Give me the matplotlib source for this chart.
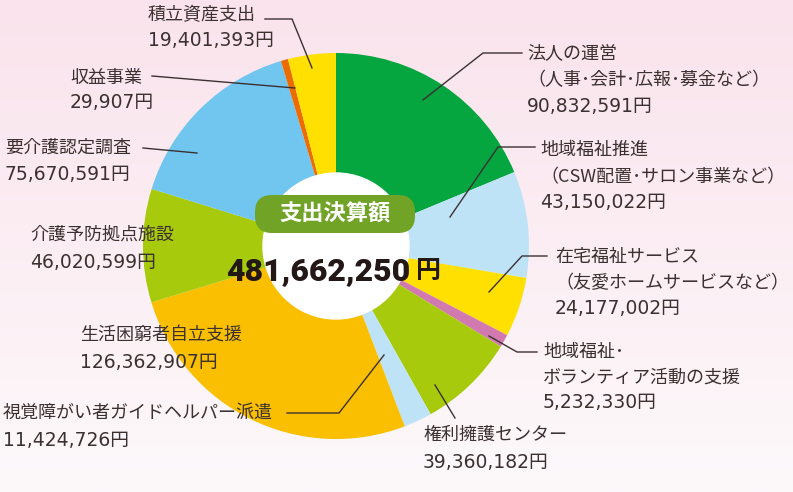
import numpy as np
import matplotlib
matplotlib.use("Agg")
import matplotlib.pyplot as plt
from matplotlib.patches import Circle, FancyBboxPatch

# data (clockwise from 12 o'clock)
categories = ["法人の運営", "地域福祉推進", "在宅福祉サービス", "地域福祉・ボランティア活動の支援",
              "権利擁護センター", "視覚障がい者ガイドヘルパー派遣", "生活困窮者自立支援",
              "介護予防拠点施設", "要介護認定調査", "収益事業", "積立資産支出"]
values = [90832591, 43150022, 24177002, 5232330, 39360182, 11424726,
          126362907, 46020599, 75670591, 29907, 19401393]
colors = ["#05a53f", "#bfe3f6", "#ffe000", "#d279b0", "#a7ca0c", "#bfe3f6",
          "#f9bf00", "#a7ca0c", "#70c6ef", "#ec6c00", "#ffe000"]
total_label = "481,662,250"

text_col = "#3b3131"
jp = ["Noto Sans CJK JP", "DejaVu Sans"]
num = ["DejaVu Sans", "Noto Sans CJK JP"]
plt.rcParams["font.family"] = jp

fig = plt.figure(figsize=(7.93, 4.92), dpi=100)
ax = fig.add_axes([0, 0, 1, 1])

# pink -> white background
top = np.array([250, 227, 236]) / 255
bot = np.array([253, 249, 251]) / 255
t = np.linspace(0, 1, 256)[:, None, None]
grad = top * (1 - t) + bot * t
ax.imshow(grad, extent=(0, 793, 492, 0), aspect="auto", zorder=0)

# tiny slices get a visible minimum width like the original
vals = np.array(values, dtype=float)
disp = np.maximum(vals, vals.sum() * 0.006)

cx, cy, r = 336, 246, 193
ax.pie(disp, colors=colors, startangle=-90, counterclock=True, radius=r,
       center=(cx, cy), wedgeprops=dict(linewidth=0))
ax.add_patch(Circle((cx, cy), 73, color="white", zorder=3))

ax.set_xlim(0, 793)
ax.set_ylim(492, 0)
ax.set_aspect("auto")
ax.axis("off")

# centre label
ax.add_patch(FancyBboxPatch((255, 195), 160, 38, boxstyle="round,pad=0,rounding_size=17",
                            fc="#70a326", ec="none", zorder=4))
ax.text(335, 214, "支出決算額", color="white", fontsize=16, fontweight="bold",
        ha="center", va="center", zorder=5)
big = ax.text(226, 271, total_label, family="Roboto", fontweight="black",
              fontsize=23, color="#231815", ha="left", va="center", zorder=5)
ax.annotate("円", xy=(1, 0.5), xycoords=big, xytext=(4, 0), textcoords="offset points",
            fontsize=18, fontweight="bold", color="#231815",
            ha="left", va="center", zorder=5)

# labels: (x, [(y, text, is_number), ...])
labels = [
    (148, [(15, "積立資産支出", 0), (40, "19,401,393円", 1)]),
    (70, [(78, "収益事業", 0), (103, "29,907円", 1)]),
    (5, [(148, "要介護認定調査", 0), (175, "75,670,591円", 1)]),
    (30, [(235, "介護予防拠点施設", 0), (262, "46,020,599円", 1)]),
    (80, [(335, "生活困窮者自立支援", 0), (362, "126,362,907円", 1)]),
    (3, [(413, "視覚障がい者ガイドヘルパー派遣", 0), (440, "11,424,726円", 1)]),
    (423, [(435, "権利擁護センター", 0), (462, "39,360,182円", 1)]),
    (543, [(352, "地域福祉･", 0), (378, "ボランティア活動の支援", 0), (403, "5,232,330円", 1)]),
    (555, [(257, "在宅福祉サービス", 0), (283, "（友愛ホームサービスなど）", 0), (308, "24,177,002円", 1)]),
    (540, [(150, "地域福祉推進", 0), (177, "（CSW配置･サロン事業など）", 0), (202, "43,150,022円", 1)]),
    (527, [(53, "法人の運営", 0), (80, "（人事･会計･広報･募金など）", 0), (106, "90,832,591円", 1)]),
]
for x, lines in labels:
    for y, s, isnum in lines:
        ax.text(x, y, s, family=num if isnum else jp, fontsize=13.5 if isnum else 13,
                color=text_col, ha="left", va="center", zorder=6)

# leader lines
leaders = [
    [(265, 19), (292, 19), (312, 68)],
    [(152, 76), (295, 88)],
    [(143, 148), (197, 153)],
    [(287, 413), (339, 413), (384, 355)],
    [(455, 418), (435, 385)],
    [(537, 352), (517, 352), (489, 336)],
    [(547, 256), (522, 256), (489, 292)],
    [(535, 147), (498, 147), (450, 217)],
    [(522, 53), (483, 53), (423, 100)],
]
for pts in leaders:
    xs, ys = zip(*pts)
    ax.plot(xs, ys, color=text_col, lw=1, zorder=6)

fig.savefig("out.png", dpi=100)
